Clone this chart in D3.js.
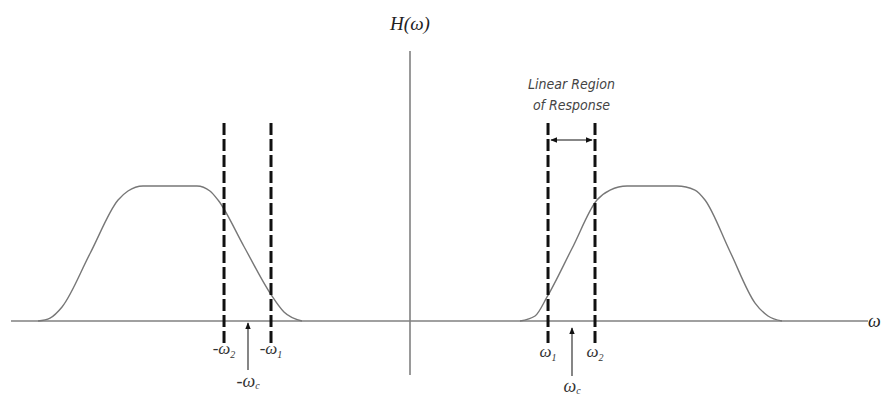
<!DOCTYPE html>
<html>
<head>
<meta charset="utf-8">
<script src="https://cdn.jsdelivr.net/npm/d3@7"></script>
<style>
  html, body { margin: 0; padding: 0; background: #fff; }
  svg { display: block; }
</style>
</head>
<body>
<svg id="chart" width="884" height="398"></svg>
<script>
// Frequency response H(ω) of a band-pass filter, with slope-detection region.
// ω in units of the carrier ωc, H normalised to the passband level.
const leftOmega  = [-2.296, -2.222, -2.148, -1.975, -1.802, -1.741, -1.648, -1.481, -1.315, -1.235, -1.185, -1.025, -0.864, -0.778, -0.667];
const leftH      = [0, 0.022, 0.104, 0.500, 0.896, 0.963, 1, 1, 1, 0.963, 0.896, 0.552, 0.207, 0.067, 0];
const rightOmega = [0.679, 0.772, 0.846, 1.000, 1.154, 1.235, 1.340, 1.494, 1.648, 1.759, 1.821, 1.975, 2.130, 2.210, 2.296];
const rightH     = [0, 0.037, 0.178, 0.537, 0.896, 0.970, 1, 1, 1, 0.970, 0.896, 0.515, 0.133, 0.037, 0];

// Marker frequencies on the ω axis
const markerOmega  = [-1.148, -0.858, 0.852, 1.142];
const markerLabels = [["-ω", "2"], ["-ω", "1"], ["ω", "1"], ["ω", "2"]];
const carrierOmega  = [-1, 1];
const carrierLabels = [["-ω", "c"], ["ω", "c"]];
const regionText = ["Linear Region", "of Response"];

const svg = d3.select("#chart");
const x = d3.scaleLinear().domain([-2.5, 2.9]).range([410 - 2.5 * 162, 410 + 2.9 * 162]);
const y = d3.scaleLinear().domain([0, 1]).range([321, 186]);
const serif = "'Liberation Serif', 'DejaVu Serif', serif";

const defs = svg.append("defs");
defs.append("marker").attr("id", "head")
  .attr("viewBox", "0 0 10 10").attr("refX", 9).attr("refY", 5)
  .attr("markerWidth", 7).attr("markerHeight", 7).attr("orient", "auto-start-reverse")
  .attr("markerUnits", "userSpaceOnUse")
  .append("path").attr("d", "M0,1 L10,5 L0,9 Z").attr("fill", "#111");

// Axes
svg.append("line")
  .attr("x1", x(-2.463)).attr("x2", x(2.827)).attr("y1", y(0)).attr("y2", y(0))
  .attr("stroke", "#808080").attr("stroke-width", 1.6);
svg.append("line")
  .attr("x1", x(0)).attr("x2", x(0)).attr("y1", y(2.0)).attr("y2", y(-0.4))
  .attr("stroke", "#808080").attr("stroke-width", 1.6);

svg.append("text").attr("x", x(0)).attr("y", 30).attr("text-anchor", "middle")
  .attr("font-family", serif).attr("font-style", "italic")
  .attr("font-size", 19).attr("fill", "#222").text("H(ω)");
svg.append("text").attr("x", 868).attr("y", 327)
  .attr("font-family", serif).attr("font-style", "italic")
  .attr("font-size", 18).attr("fill", "#222").text("ω");

// Response curves: straight skirts with rounded corners
const line = d3.line().x(d => x(d[0])).y(d => y(d[1])).curve(d3.curveMonotoneX);
[[leftOmega, leftH], [rightOmega, rightH]].forEach(([w, h]) => {
  svg.append("path").datum(d3.zip(w, h)).attr("d", line)
    .attr("fill", "none").attr("stroke", "#777").attr("stroke-width", 1.4);
});

// Dashed marker lines
svg.selectAll("line.marker").data(markerOmega).join("line")
  .attr("class", "marker")
  .attr("x1", d => x(d)).attr("x2", d => x(d))
  .attr("y1", y(1.467)).attr("y2", y(-0.17))
  .attr("stroke", "#111").attr("stroke-width", 3).attr("stroke-dasharray", "12,4");

svg.selectAll("text.mlabel").data(markerOmega).join("text")
  .attr("class", "mlabel")
  .attr("x", d => x(d)).attr("y", (d, i) => i < 2 ? 354 : 357)
  .attr("text-anchor", "middle").attr("font-family", serif).attr("font-style", "italic")
  .attr("font-size", 17).attr("fill", "#333")
  .each(function(d, i) {
    const t = d3.select(this);
    t.append("tspan").text(markerLabels[i][0]);
    t.append("tspan").attr("dy", 4).attr("font-size", 10).text(markerLabels[i][1]);
  });

// Carrier arrows and labels
const arrowBottom = [370, 376];
const labelBase = [387, 392];
carrierOmega.forEach((w, i) => {
  svg.append("line")
    .attr("x1", x(w)).attr("x2", x(w))
    .attr("y1", arrowBottom[i]).attr("y2", y(0) + (i ? 7 : 2))
    .attr("stroke", "#222").attr("stroke-width", 1.1).attr("marker-end", "url(#head)");
  const t = svg.append("text").attr("x", x(w)).attr("y", labelBase[i])
    .attr("text-anchor", "middle").attr("font-family", serif).attr("font-style", "italic")
    .attr("font-size", 18).attr("fill", "#333");
  t.append("tspan").text(carrierLabels[i][0]);
  t.append("tspan").attr("dy", 2).attr("font-size", 10).text(carrierLabels[i][1]);
});

// Linear region annotation
const midRegion = (markerOmega[2] + markerOmega[3]) / 2;
svg.selectAll("text.region").data(regionText).join("text")
  .attr("class", "region")
  .attr("x", x(midRegion)).attr("y", (d, i) => 89 + i * 21)
  .attr("text-anchor", "middle")
  .attr("font-family", "'Liberation Sans Narrow', 'DejaVu Sans Condensed', 'Liberation Sans', sans-serif")
  .attr("font-style", "italic").attr("font-stretch", "condensed")
  .attr("font-size", 14).attr("fill", "#444").text(d => d);

svg.append("line")
  .attr("x1", x(markerOmega[2]) + 3).attr("x2", x(markerOmega[3]) - 3)
  .attr("y1", 140).attr("y2", 140)
  .attr("stroke", "#111").attr("stroke-width", 1.1)
  .attr("marker-start", "url(#head)").attr("marker-end", "url(#head)");
</script>
</body>
</html>
